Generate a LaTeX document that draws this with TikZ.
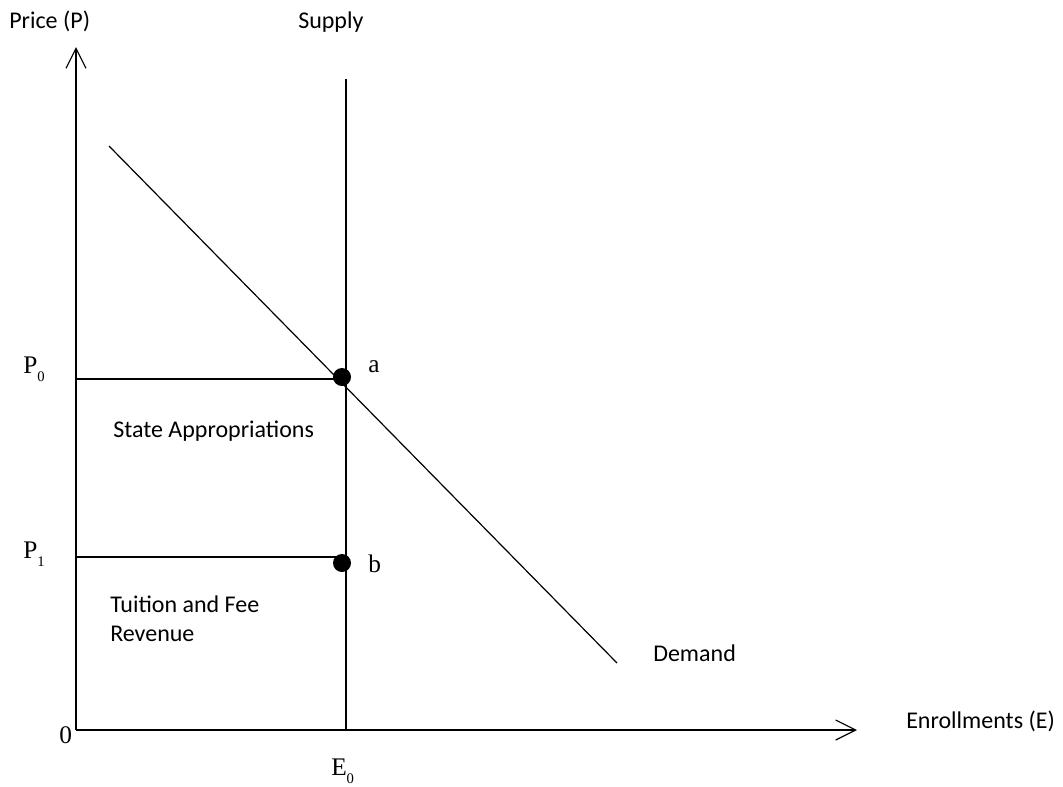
\documentclass[tikz,border=0pt]{standalone}
\usepackage{fontspec}
\setmainfont{Liberation Serif}
\newfontfamily\labelfont{Carlito}
\usetikzlibrary{arrows.meta, calc, positioning}

\newcommand{\lowsub}[1]{\raisebox{-0.7ex}{\fontsize{11}{11}\selectfont #1}}

\tikzset{
	axis/.style={line width=1.1pt, -{Straight Barb[length=15pt, width=15pt, line width=0.9pt]}},
	curve/.style={line width=0.9pt},
	sanslbl/.style={anchor=base west, inner sep=0.75pt, font=\labelfont\fontsize{18}{22}\selectfont},
	seriflbl/.style={anchor=base west, inner sep=0.75pt, font=\fontsize{19}{22}\selectfont},
	eqdot/.style={circle, fill=black, inner sep=0pt, minimum size=13.5pt}
}

\begin{document}
\begin{tikzpicture}[x=0.75pt,y=0.75pt,yscale=-1,xscale=1]
			\useasboundingbox (0,0) rectangle (1063,786);

			%Axes
			\coordinate (O) at (76,730);
			\coordinate (ytop) at (76,47);
			\coordinate (xend) at (857,730);
			\draw [axis] (O) -- (ytop) ;
			\draw [axis] (O) -- (xend) ;

			%Supply line
			\coordinate (stop) at (346,79);
			\coordinate (sbot) at (346,730);
			\draw [curve] (sbot) -- (stop) ;

			%Demand line
			\coordinate (dtop) at (109,146);
			\coordinate (dbot) at (617,663);
			\draw [curve] (dtop) -- (dbot) ;

			%Equilibrium points
			\node [eqdot] (a) at (342,377) {};
			\node [eqdot] (b) at (342,563) {};
			\coordinate (p0) at (76,379);
			\coordinate (p1) at (76,557);
			\draw [curve] (p0) -- (a.center |- p0) ;
			\draw [curve] (p1) -- (b.center |- p1) ;

			% Text Node
			\draw (8,28) node [sanslbl] (price) {Price (P)};
			% Text Node
			\draw (297,28) node [sanslbl] (supply) {Supply};
			% Text Node
			\draw (22,373) node [seriflbl] (lblP0) {P\lowsub{0}};
			% Text Node
			\draw (367,372) node [seriflbl] (lbla) {a};
			% Text Node
			\draw (112,437) node [sanslbl] (state) {State Appropriations};
			% Text Node
			\draw (22,558) node [seriflbl] (lblP1) {P\lowsub{1}};
			% Text Node
			\draw (367,572) node [seriflbl] (lblb) {b};
			% Text Node
			\draw (109,612) node [sanslbl] (tuition) {Tuition and Fee};
			% Text Node
			\draw (109,641) node [sanslbl] (revenue) {Revenue};
			% Text Node
			\draw (652,661) node [sanslbl] (demand) {Demand};
			% Text Node
			\draw (905,728) node [sanslbl] (enroll) {Enrollments (E)};
			% Text Node
			\draw (58,743) node [seriflbl] (zero) {0};
			% Text Node
			\draw (330,775) node [seriflbl] (lblE0) {E\lowsub{0}};

\end{tikzpicture}
\end{document}
